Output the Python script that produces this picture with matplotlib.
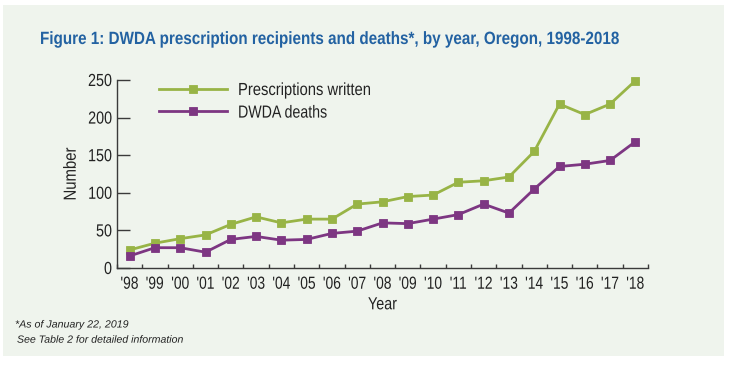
import matplotlib
matplotlib.use("Agg")
import matplotlib.pyplot as plt
from matplotlib.patches import Rectangle
from matplotlib.patheffects import AbstractPathEffect
from matplotlib.transforms import Affine2D
import numpy as np

years = ["'98", "'99", "'00", "'01", "'02", "'03", "'04", "'05", "'06", "'07",
         "'08", "'09", "'10", "'11", "'12", "'13", "'14", "'15", "'16", "'17", "'18"]
prescriptions = [24, 33, 39, 44, 58, 68, 60, 65, 65, 85,
                 88, 95, 97, 114, 116, 121, 155, 218, 204, 218, 249]
deaths = [16, 27, 27, 21, 38, 42, 37, 38, 46, 49,
          60, 59, 65, 71, 85, 73, 105, 135, 138, 143, 168]

green = "#98b446"
purple = "#7d3682"
bg = "#eff4ed"
ink = "#222222"
font = ["Liberation Sans", "DejaVu Sans"]


# no condensed font installed, so squeeze glyphs along the baseline
class Squeeze(AbstractPathEffect):
    def __init__(self, sx, align=0.0):
        super().__init__()
        self.sx = sx
        self.align = align

    def draw_path(self, renderer, gc, tpath, affine, rgbFace=None):
        x1 = tpath.get_extents().x1
        t = Affine2D().scale(self.sx, 1).translate(self.align * (1 - self.sx) * x1, 0) + affine
        renderer.draw_path(gc, tpath, t, rgbFace)


fig = plt.figure(figsize=(7.34, 3.70), dpi=100)
fig.patch.set_facecolor("white")
fig.patches.append(Rectangle((3 / 734, 1 - 356 / 370), 721 / 734, 351 / 370,
                             transform=fig.transFigure, facecolor=bg,
                             edgecolor="none", zorder=-10))

ax = fig.add_axes([117 / 734, 102 / 370, 531 / 734, 188 / 370])
ax.set_facecolor("none")
x = np.arange(len(years))
ax.plot(x, prescriptions, color=green, lw=2, marker="s", ms=5.2, mew=0.6,
        label="Prescriptions written", clip_on=False)
ax.plot(x, deaths, color=purple, lw=2, marker="s", ms=5.2, mew=0.6,
        label="DWDA deaths", clip_on=False)

ax.set_xlim(-0.5, len(years) - 0.5)
ax.set_ylim(0, 250)
ax.set_yticks([0, 50, 100, 150, 200, 250])
ax.set_xticks(x)
ax.set_xticklabels(years)
ax.set_xticks(np.arange(-0.5, len(years)), minor=True)
ax.tick_params(axis="x", which="major", length=0, pad=6.3, labelsize=12.6)
ax.tick_params(axis="x", which="minor", direction="in", length=3, color="#3a3a3a", width=1)
ax.tick_params(axis="y", direction="in", length=9.4, color="#3a3a3a", width=1,
               pad=3.6, labelsize=12.6)
for lab in ax.get_xticklabels():
    lab.set_family(font)
    lab.set_color(ink)
    lab.set_path_effects([Squeeze(0.79, 0.5)])
for lab in ax.get_yticklabels():
    lab.set_family(font)
    lab.set_color(ink)
    lab.set_path_effects([Squeeze(0.82, 1.0)])
for s in ["top", "right"]:
    ax.spines[s].set_visible(False)
for s in ["left", "bottom"]:
    ax.spines[s].set_color("#3a3a3a")
    ax.spines[s].set_linewidth(1)

ax.set_xlabel("Year", family=font, fontsize=12.6, color=ink, labelpad=4)
ax.set_ylabel("Number", family=font, fontsize=12.6, color=ink, labelpad=3)

leg = ax.legend(loc="upper left", bbox_to_anchor=(143 / 734, 1 - 67 / 370),
                bbox_transform=fig.transFigure, frameon=False,
                handlelength=3.9, handletextpad=0.63, labelspacing=0.42,
                borderpad=0.4, prop={"family": font, "size": 12.6})
for t in leg.get_texts():
    t.set_color(ink)

title = fig.text(40 / 734, 1 - 44 / 370,
                 "Figure 1: DWDA prescription recipients and deaths*, by year, Oregon, 1998-2018",
                 family=font, fontsize=12.8, fontweight="bold", color="#2362a2", va="baseline")
note1 = fig.text(15 / 734, 1 - 327.5 / 370, "*As of January 22, 2019", family=font,
                 style="italic", fontsize=7.5, color=ink, va="baseline")
note2 = fig.text(17 / 734, 1 - 342.7 / 370, "See Table 2 for detailed information", family=font,
                 style="italic", fontsize=7.5, color=ink, va="baseline")

# fit the squeeze of each free text to the width it has in the original
r = fig.canvas.get_renderer()
targets = [(title, 580, 0.0), (note1, 113, 0.0), (note2, 165, 0.0),
           (ax.xaxis.label, 29, 0.5), (ax.yaxis.label, 53, 0.5)]
for t, w, a in targets:
    bb = t.get_window_extent(r)
    size = max(bb.width, bb.height)
    t.set_path_effects([Squeeze(w / size, a)])
for t, w in zip(leg.get_texts(), [133, 89]):
    t.set_path_effects([Squeeze(w / t.get_window_extent(r).width, 0.0)])

fig.savefig("out.png", dpi=100, facecolor="white")
